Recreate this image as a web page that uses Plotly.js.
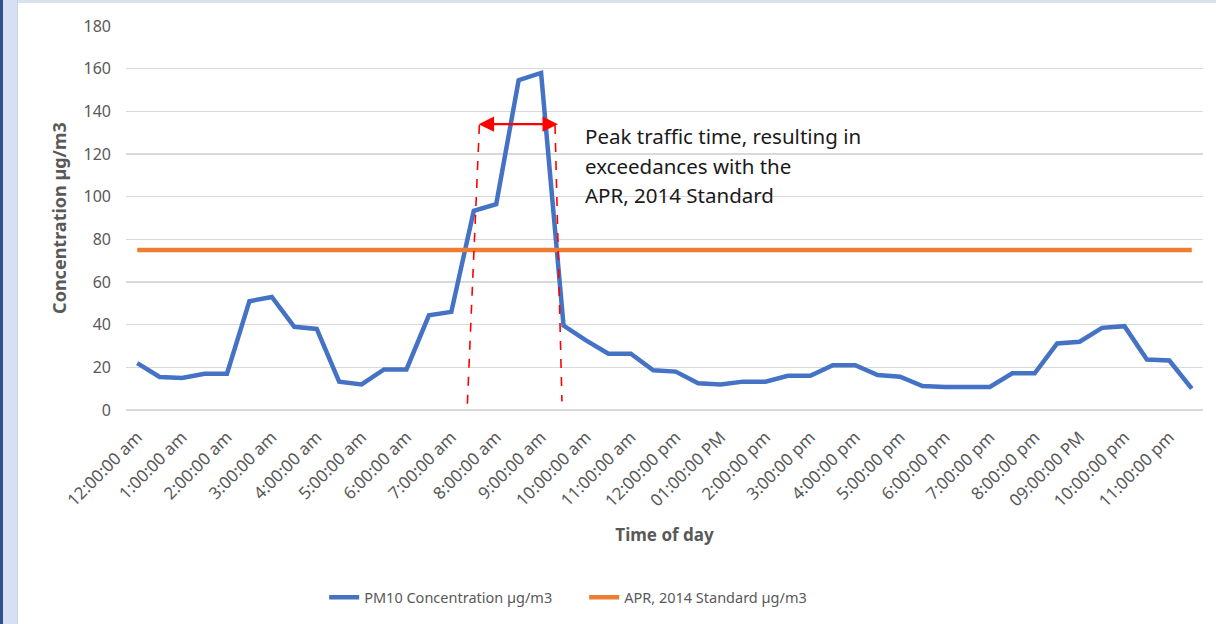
<!DOCTYPE html>
<html>
<head>
<meta charset="utf-8">
<script src="https://cdn.plot.ly/plotly-3.0.1.min.js"></script>
<style>
  html, body { margin: 0; padding: 0; background: #ffffff; }
  #wrap { position: relative; width: 1216px; height: 624px; overflow: hidden; }
  #chart { position: absolute; left: 0; top: 0; width: 1216px; height: 624px; }
  .strip { position: absolute; pointer-events: none; }
</style>
</head>
<body>
<div id="wrap">
  <div id="chart"></div>
  <div class="strip" style="left:0;top:0;width:3px;height:624px;background:#2f4f8d;"></div>
  <div class="strip" style="left:3px;top:0;width:14px;height:624px;background:#d6e0f2;"></div>
  <div class="strip" style="left:17px;top:0;width:1px;height:624px;background:#cfd3da;"></div>
  <div class="strip" style="left:18px;top:0;width:1198px;height:3px;background:#dbe2ef;"></div>
</div>
<script>
// Hourly tick labels (one label every two half-hour readings)
const hourLabels = [
  "12:00:00 am", "1:00:00 am", "2:00:00 am", "3:00:00 am", "4:00:00 am", "5:00:00 am",
  "6:00:00 am", "7:00:00 am", "8:00:00 am", "9:00:00 am", "10:00:00 am", "11:00:00 am",
  "12:00:00 pm", "01:00:00 PM", "2:00:00 pm", "3:00:00 pm", "4:00:00 pm", "5:00:00 pm",
  "6:00:00 pm", "7:00:00 pm", "8:00:00 pm", "09:00:00 PM", "10:00:00 pm", "11:00:00 pm"
];

// Half-hourly PM10 concentration (µg/m3)
const pm10Values = [
  22, 15.5, 15, 17, 17, 51, 53, 39, 38, 13.3, 12, 19,
  19, 44.4, 46, 93.4, 96.5, 154.6, 158, 39.6, 32.6, 26.4, 26.4, 18.6,
  18, 12.5, 12, 13.3, 13.3, 16, 16, 21, 21, 16.4, 15.6, 11.2,
  10.8, 10.8, 10.8, 17.2, 17.2, 31.2, 32, 38.5, 39.3, 23.7, 23.2, 10
];

// APR 2014 standard (µg/m3)
const standardValue = 75;

const seriesNames = ["PM10 Concentration µg/m3", "APR, 2014 Standard µg/m3"];

const annotationLines = ["Peak traffic time, resulting in", "exceedances with the", "APR, 2014 Standard"];

const xIdx = pm10Values.map((_, i) => i);
const tickIdx = hourLabels.map((_, i) => i * 2);
const stdValues = pm10Values.map(() => standardValue);

const traces = [
  {
    x: xIdx, y: pm10Values, type: "scatter", mode: "lines",
    name: seriesNames[0],
    line: { color: "#4472c4", width: 4.5, shape: "linear" },
    hoverinfo: "skip"
  },
  {
    x: xIdx, y: stdValues, type: "scatter", mode: "lines",
    name: seriesNames[1],
    line: { color: "#ed7d31", width: 4.5 },
    hoverinfo: "skip"
  }
];

const gray = "#595959";
const font = "Noto Sans, Open Sans, sans-serif";

const lineAnn = annotationLines.map((t, i) => ({
  x: 19.85, y: [128.6, 114.6, 100.8][i], xref: "x", yref: "y",
  xanchor: "left", yanchor: "middle", showarrow: false,
  text: t, font: { family: font, size: 20.5, color: "#1a1a1a" }
}));

const layout = {
  width: 1216, height: 624,
  paper_bgcolor: "#ffffff", plot_bgcolor: "#ffffff",
  margin: { l: 126, r: 13, t: 26, b: 213 },
  showlegend: true,
  legend: {
    orientation: "h", x: 0.184, xanchor: "left", y: -0.484, yanchor: "middle",
    font: { family: font, size: 14.5, color: gray },
    entrywidth: 215, itemwidth: 30
  },
  xaxis: {
    range: [-0.5, 47.5],
    tickmode: "array", tickvals: tickIdx, ticktext: hourLabels,
    tickangle: -45, ticks: "", showgrid: false, zeroline: false,
    showline: false,
    tickfont: { family: font, size: 17, color: gray },
    ticklabelstandoff: 13,
    title: { text: "Time of day", font: { family: font, size: 17, color: gray, weight: "bold" }, standoff: 18 },
    automargin: false
  },
  yaxis: {
    range: [0, 180], dtick: 20, tick0: 0,
    showgrid: true, gridcolor: "#d9d9d9", gridwidth: 1.5,
    zeroline: true, zerolinecolor: "#d9d9d9", zerolinewidth: 1.5,
    ticks: "", showline: false,
    tickfont: { family: font, size: 16, color: gray },
    ticklabelstandoff: 14,
    title: { text: "Concentration µg/m3", font: { family: font, size: 18, color: gray, weight: "bold" }, standoff: 12 },
    automargin: false
  },
  shapes: [
    { type: "line", xref: "x", yref: "y", x0: 15.25, y0: 133.6, x1: 14.7, y1: -0.6,
      line: { color: "#ff0000", width: 1.6, dash: "dash" } },
    { type: "line", xref: "x", yref: "y", x0: 18.62, y0: 133.6, x1: 18.93, y1: 4,
      line: { color: "#ff0000", width: 1.6, dash: "dash" } }
  ],
  annotations: [
    { x: 18.75, y: 134, ax: 15.15, ay: 134, xref: "x", yref: "y", axref: "x", ayref: "y",
      text: "", showarrow: true, arrowhead: 2, startarrowhead: 2, arrowside: "end+start",
      arrowsize: 1.4, startarrowsize: 1.4, arrowwidth: 2.2, arrowcolor: "#ff0000" }
  ].concat(lineAnn)
};

Plotly.newPlot("chart", traces, layout, { displayModeBar: false, staticPlot: true });
</script>
</body>
</html>
